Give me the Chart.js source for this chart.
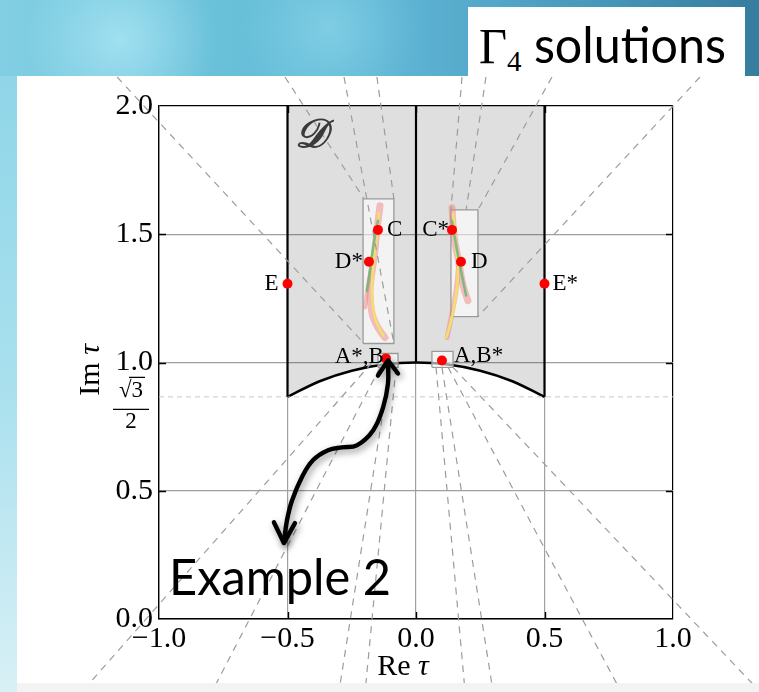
<!DOCTYPE html>
<html>
<head>
<meta charset="utf-8">
<script src="https://cdn.jsdelivr.net/npm/chart.js@4.4.0/dist/chart.umd.min.js"></script>
<style>
html, body { margin: 0; padding: 0; }
body {
    width: 759px; height: 692px; position: relative; overflow: hidden;
    background:
        radial-gradient(circle at 120px 40px, rgba(175,232,246,0.75) 0, rgba(175,232,246,0) 95px),
        radial-gradient(circle at 330px 30px, rgba(150,222,240,0.55) 0, rgba(150,222,240,0) 90px),
        linear-gradient(to right, #82cfe3 0%, #68c0d9 30%, #5cb2d2 55%, #4596b8 80%, #367d9e 100%);
}
#leftStrip { position: absolute; left: 0; top: 76px; width: 17px; height: 616px;
    background: linear-gradient(to bottom, #8fd6e8 0%, #a9e0ee 50%, #d8f0f6 100%); }
#panel { position: absolute; left: 17px; top: 76px; width: 742px; height: 616px; background: #fff; }
#bottomBand { position: absolute; left: 0; bottom: 0; width: 742px; height: 9px; background: #f3f3f3; }
#chart { position: absolute; left: 0; top: 0; }
#titleBox { position: absolute; left: 468px; top: 7px; width: 277px; height: 70px; background: #fff; }
.fit { position: absolute; white-space: nowrap; transform-origin: left top; color: #000; }
#title { left: 479px; top: 14px; font-family: Lato, sans-serif; font-size: 50px; line-height: 60px; }
#title .gam { font-family: "Liberation Serif", serif; font-size: 50px; }
#title sub { font-family: "Liberation Serif", serif; font-size: 30px; vertical-align: -8px; line-height: 0; }
#example { left: 169px; top: 546px; font-family: Lato, sans-serif; font-size: 50px; line-height: 60px; }
</style>
</head>
<body>
<div id="leftStrip"></div>
<div id="panel">
    <canvas id="chart" width="742" height="616"></canvas>
    <div id="bottomBand"></div>
</div>
<div id="titleBox"></div>
<div id="title" class="fit"><span class="gam">Γ</span><sub>4</sub> solutions</div>
<div id="example" class="fit">Example 2</div>
<script>
// axes
const xRange = [-1, 1];
const yRange = [0, 2];
const tickStep = 0.5;
const sqrt3Half = 0.866;

// boundary of the fundamental domain D
const arcRe = [-0.5, -0.375, -0.25, -0.125, 0, 0.125, 0.25, 0.375, 0.5];
const arcIm = [0.866, 0.927, 0.968, 0.992, 1.0, 0.992, 0.968, 0.927, 0.866];
const edgeRe = [-0.5, 0.5, 0];
const edgeImFrom = [0.866, 0.866, 1.0];
const edgeImTo = [2, 2, 2];

// marked points
const pointNames = ['A*,B', 'A,B*', 'C', 'D*', 'E', 'C*', 'D', 'E*'];
const pointRe = [-0.117, 0.101, -0.148, -0.183, -0.5, 0.14, 0.175, 0.5];
const pointIm = [1.016, 1.008, 1.517, 1.393, 1.307, 1.517, 1.393, 1.307];

// zoom boxes: re min, re max, im min, im max
const boxReMin = [-0.206, 0.136, -0.148, 0.062];
const boxReMax = [-0.086, 0.241, -0.070, 0.144];
const boxImMin = [1.074, 1.179, 0.981, 0.981];
const boxImMax = [1.638, 1.595, 1.035, 1.043];

// solution traces inside the boxes
const pinkLeftRe = [-0.140, -0.152, -0.163, -0.179, -0.171, -0.148, -0.121];
const pinkLeftIm = [1.611, 1.514, 1.409, 1.280, 1.191, 1.136, 1.097];
const pinkLeftBranchRe = [-0.171, -0.187, -0.198];
const pinkLeftBranchIm = [1.385, 1.300, 1.214];
const yellowLeftRe = [-0.144, -0.156, -0.167, -0.171, -0.160, -0.128];
const yellowLeftIm = [1.584, 1.475, 1.370, 1.268, 1.175, 1.105];
const greenLeftRe = [-0.148, -0.167, -0.183, -0.191];
const greenLeftIm = [1.553, 1.447, 1.331, 1.280];
const pinkRightRe = [0.140, 0.148, 0.167, 0.183, 0.202];
const pinkRightIm = [1.603, 1.494, 1.389, 1.300, 1.241];
const pinkRightBranchRe = [0.167, 0.156, 0.140, 0.121];
const pinkRightBranchIm = [1.389, 1.280, 1.191, 1.097];
const yellowRightRe = [0.144, 0.156, 0.163, 0.152, 0.132, 0.117];
const yellowRightIm = [1.580, 1.455, 1.339, 1.241, 1.144, 1.097];
const greenRightRe = [0.140, 0.160, 0.183, 0.195];
const greenRightIm = [1.553, 1.436, 1.319, 1.261];

// dashed zoom guide lines (re0, im0) -> (re1, im1)
const guideRe0 = [-1.163, -0.510, -0.280, -0.152, 0.179, 0.272, 0.529, 1.105, -0.171, -0.140, -0.101, -0.078, 0.078, 0.101, 0.125, 0.144];
const guideIm0 = [2.113, 2.113, 2.113, 2.113, 2.113, 2.113, 2.113, 2.113, 1.000, 0.981, 0.981, 0.981, 0.981, 0.981, 0.981, 0.981];
const guideRe1 = [-0.202, -0.202, -0.086, -0.086, 0.136, 0.195, 0.241, 0.241, -1.300, -0.794, -0.300, -0.198, 0.191, 0.300, 0.798, 1.339];
const guideIm1 = [1.074, 1.638, 1.074, 1.638, 1.595, 1.595, 1.595, 1.179, -0.284, -0.284, -0.284, -0.284, -0.284, -0.284, -0.284, -0.284];

// hand-drawn arrow to "Example 2"
const arrowRe = [-0.109, -0.109, -0.128, -0.167, -0.230, -0.288, -0.342, -0.401, -0.444, -0.482, -0.502, -0.514];
const arrowIm = [1.000, 0.918, 0.825, 0.735, 0.677, 0.669, 0.658, 0.619, 0.553, 0.463, 0.385, 0.300];
const arrowHeadTopRe = [-0.148, -0.109, -0.070];
const arrowHeadTopIm = [0.949, 1.008, 0.957];
const arrowHeadBotRe = [-0.553, -0.514, -0.471];
const arrowHeadBotIm = [0.377, 0.296, 0.374];

const zip = (xs, ys) => xs.map((x, i) => ({ x: x, y: ys[i] }));
const serif = '"Liberation Serif", "Times New Roman", serif';

const lineSet = (pts, color, width, extra) => Object.assign({
    type: 'line', data: pts, borderColor: color, borderWidth: width,
    pointRadius: 0, fill: false, tension: 0
}, extra || {});

const datasets = [];
// shaded domain
datasets.push(lineSet(zip(arcRe, arcIm), '#000', 2.6,
    { fill: 'end', backgroundColor: 'rgba(0,0,0,0.125)', cubicInterpolationMode: 'monotone' }));
datasets.push(lineSet([{ x: xRange[0], y: sqrt3Half }, { x: xRange[1], y: sqrt3Half }], '#c8c8c8', 1, { borderDash: [5, 4] }));
// boxes
boxReMin.forEach((r0, i) => {
    const r1 = boxReMax[i], i0 = boxImMin[i], i1 = boxImMax[i];
    datasets.push(lineSet([{ x: r0, y: i0 }, { x: r1, y: i0 }, { x: r1, y: i1 }, { x: r0, y: i1 }, { x: r0, y: i0 }],
        '#9a9a9a', 1.3, { fill: 'shape', backgroundColor: 'rgba(255,255,255,0.6)' }));
});
// traces
const bandStyle = { tension: 0.4, borderCapStyle: 'round' };
datasets.push(lineSet(zip(pinkLeftRe, pinkLeftIm), 'rgba(240,120,115,0.45)', 7, bandStyle));
datasets.push(lineSet(zip(pinkLeftBranchRe, pinkLeftBranchIm), 'rgba(240,120,115,0.45)', 4, bandStyle));
datasets.push(lineSet(zip(pinkRightRe, pinkRightIm), 'rgba(240,120,115,0.45)', 7, bandStyle));
datasets.push(lineSet(zip(pinkRightBranchRe, pinkRightBranchIm), 'rgba(240,120,115,0.45)', 5, bandStyle));
datasets.push(lineSet(zip(yellowLeftRe, yellowLeftIm), '#f3df6e', 2.5, bandStyle));
datasets.push(lineSet(zip(yellowRightRe, yellowRightIm), '#f3df6e', 2.5, bandStyle));
datasets.push(lineSet(zip(greenLeftRe, greenLeftIm), 'rgba(105,185,120,0.85)', 2.5, bandStyle));
datasets.push(lineSet(zip(greenRightRe, greenRightIm), 'rgba(105,185,120,0.85)', 2.5, bandStyle));
// domain edges
edgeRe.forEach((r, i) => {
    datasets.push(lineSet([{ x: r, y: edgeImFrom[i] }, { x: r, y: edgeImTo[i] }], '#000', 2.2));
});
// guide lines
guideRe0.forEach((r, i) => {
    datasets.push(lineSet([{ x: r, y: guideIm0[i] }, { x: guideRe1[i], y: guideIm1[i] }],
        '#9c9c9c', 1.2, { borderDash: [7, 6], clip: false }));
});
// points
datasets.push({ type: 'scatter', data: zip(pointRe, pointIm), pointRadius: 5,
    pointBackgroundColor: '#ff0000', pointBorderWidth: 0, showLine: false });
// arrow
const arrowStyle = { clip: false, shadow: true, borderCapStyle: 'round', borderJoinStyle: 'round' };
datasets.push(lineSet(zip(arrowRe, arrowIm), '#000', 4.4, Object.assign({ tension: 0.4 }, arrowStyle)));
datasets.push(lineSet(zip(arrowHeadTopRe, arrowHeadTopIm), '#000', 4.4, arrowStyle));
datasets.push(lineSet(zip(arrowHeadBotRe, arrowHeadBotIm), '#000', 4.4, arrowStyle));

// later in the list = drawn on top
datasets.forEach((d, i) => { d.order = datasets.length - i; });

// label offsets (px) and alignment
const labelDx = [-2, 12, 9, -6, -9, -3, 10, 8];
const labelDy = [-1, -4, 0, 0, 0, 0, 0, 0];

const decorations = {
    id: 'decorations',
    beforeDatasetDraw(chart, args) {
        if (chart.data.datasets[args.index].shadow) {
            const ctx = chart.ctx;
            ctx.save();
            ctx.shadowColor = 'rgba(0,0,0,0.45)';
            ctx.shadowBlur = 7;
            ctx.shadowOffsetX = 2;
            ctx.shadowOffsetY = 3;
        }
    },
    afterDatasetDraw(chart, args) {
        if (chart.data.datasets[args.index].shadow) chart.ctx.restore();
    },
    afterDraw(chart) {
        const ctx = chart.ctx;
        const xs = chart.scales.x, ys = chart.scales.y;
        const a = chart.chartArea;
        ctx.save();
        // inward ticks
        ctx.strokeStyle = '#000';
        ctx.lineWidth = 1.4;
        ctx.beginPath();
        for (let v = xRange[0] + tickStep; v < xRange[1] - 1e-9; v += tickStep) {
            const px = Math.round(xs.getPixelForValue(v)) + 0.5;
            ctx.moveTo(px, a.bottom); ctx.lineTo(px, a.bottom - 7);
            ctx.moveTo(px, a.top); ctx.lineTo(px, a.top + 7);
        }
        for (let v = yRange[0] + tickStep; v < yRange[1] - 1e-9; v += tickStep) {
            const py = Math.round(ys.getPixelForValue(v)) + 0.5;
            ctx.moveTo(a.left, py); ctx.lineTo(a.left + 7, py);
            ctx.moveTo(a.right, py); ctx.lineTo(a.right - 7, py);
        }
        ctx.stroke();

        // point labels
        ctx.fillStyle = '#000';
        ctx.font = '23px ' + serif;
        ctx.textBaseline = 'middle';
        pointNames.forEach((n, i) => {
            ctx.textAlign = labelDx[i] < 0 ? 'right' : 'left';
            ctx.fillText(n, xs.getPixelForValue(pointRe[i]) + labelDx[i], ys.getPixelForValue(pointIm[i]) + labelDy[i]);
        });

        // domain label
        ctx.fillStyle = '#3a3a3a';
        ctx.font = 'italic bold 40px ' + serif;
        ctx.textAlign = 'left';
        ctx.fillText('𝒟', xs.getPixelForValue(-0.47), ys.getPixelForValue(1.88));

        // sqrt(3)/2 tick label
        ctx.fillStyle = '#000';
        const fy = ys.getPixelForValue(sqrt3Half);
        const fx = a.left - 28;
        ctx.font = '23px ' + serif;
        ctx.textAlign = 'center';
        ctx.fillText('√3', fx, fy - 6);
        ctx.beginPath();
        ctx.lineWidth = 1.3;
        ctx.moveTo(fx - 2, fy - 19.5); ctx.lineTo(fx + 14, fy - 19.5);
        ctx.moveTo(fx - 18, fy + 12.5); ctx.lineTo(fx + 18, fy + 12.5);
        ctx.stroke();
        ctx.fillText('2', fx, fy + 25);

        // axis titles
        ctx.font = '30px ' + serif;
        ctx.save();
        ctx.translate(74, ys.getPixelForValue(1.03));
        ctx.rotate(-Math.PI / 2);
        ctx.textAlign = 'right';
        ctx.fillText('Im ', 0, 0);
        ctx.font = 'italic 30px ' + serif;
        ctx.textAlign = 'left';
        ctx.fillText('τ', 0, 0);
        ctx.restore();

        const tx = (a.left + a.right) / 2 + 2;
        ctx.textAlign = 'right';
        ctx.fillText('Re ', tx, 591);
        ctx.font = 'italic 30px ' + serif;
        ctx.textAlign = 'left';
        ctx.fillText('τ', tx, 591);
        ctx.restore();
    }
};

const gridColor = (edgeValues) => (c) =>
    (c.tick && edgeValues.includes(c.tick.value)) ? '#000' : '#a0a0a0';

const fmt = (v) => (v < 0 ? '\u2212' : '') + Math.abs(v).toFixed(1);

new Chart(document.getElementById('chart'), {
    type: 'scatter',
    data: { datasets: datasets },
    options: {
        responsive: false,
        animation: false,
        events: [],
        layout: { padding: { left: 0, top: 30, right: 86, bottom: 0 } },
        plugins: { legend: { display: false }, tooltip: { enabled: false } },
        scales: {
            x: {
                type: 'linear', min: xRange[0], max: xRange[1],
                afterFit: (s) => { s.height = 73; },
                ticks: { stepSize: tickStep, callback: fmt, color: '#000', padding: 2,
                    maxRotation: 0, autoSkip: false, font: { family: serif, size: 30 } },
                grid: { color: gridColor([1]), lineWidth: 1.2, drawTicks: false },
                border: { color: '#000', width: 1.4 }
            },
            y: {
                type: 'linear', min: yRange[0], max: yRange[1],
                afterFit: (s) => { s.width = 142; },
                ticks: { stepSize: tickStep, callback: fmt, color: '#000', padding: 6,
                    autoSkip: false, font: { family: serif, size: 30 } },
                grid: { color: gridColor([2]), lineWidth: 1.2, drawTicks: false },
                border: { color: '#000', width: 1.4 }
            }
        }
    },
    plugins: [decorations]
});

// squeeze the hand-lettered texts to their measured widths
const fitTo = (id, w) => {
    const el = document.getElementById(id);
    const r = el.getBoundingClientRect().width;
    el.style.transform = 'scaleX(' + (w / r) + ')';
};
fitTo('title', 247);
fitTo('example', 222);
</script>
</body>
</html>
